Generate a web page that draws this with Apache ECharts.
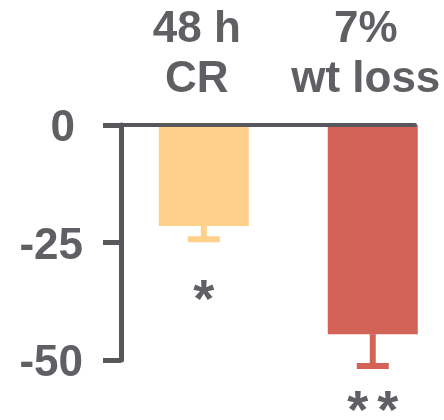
<!DOCTYPE html>
<html>
<head>
<meta charset="utf-8">
<script src="https://cdn.jsdelivr.net/npm/echarts@6/dist/echarts.min.js"></script>
<style>
  html, body { margin: 0; padding: 0; background: #fff; }
  #chart { width: 444px; height: 420px; }
</style>
</head>
<body>
<div id="chart"></div>
<script>
// groups and their x positions on the value axis
const categories = ["48 h\nCR", "7%\nwt loss"];
const positions = [1, 2];
// mean change and error (SEM) per group
const means = [-21.5, -44.5];
const sems = [2.8, 6.8];
// significance marks and the level they sit at
const sigMarks = ["*", "**"];
const sigLevels = [-37.6, -61.3];
const yTicks = [0, -25, -50];

const barColors = ["#FFD08A", "#D26356"];
const axisColor = "#58585C";
const textColor = "#5F6064";
const fontFamily = "'Liberation Sans', Arial, sans-serif";

const chart = echarts.init(document.getElementById("chart"));

const errData = positions.map((p, i) => [p, means[i], sems[i], i]);

const renderError = (params, api) => {
  const i = api.value(3);
  const top = api.coord([api.value(0), api.value(1)]);
  const end = api.coord([api.value(0), api.value(1) - api.value(2)]);
  const sig = api.coord([api.value(0), sigLevels[i]]);
  const color = barColors[i];
  const children = [
    { type: "rect", shape: { x: top[0] - 3, y: top[1], width: 6, height: end[1] - top[1] }, style: { fill: color } },
    { type: "rect", shape: { x: end[0] - 16, y: end[1] - 3, width: 32, height: 6 }, style: { fill: color } }
  ];
  const n = sigMarks[i].length;
  for (let k = 0; k < n; k++) {
    children.push({
      type: "text",
      x: sig[0] + (k - (n - 1) / 2) * 30,
      y: sig[1],
      style: {
        text: "*",
        font: "bold 54px " + fontFamily,
        fill: textColor,
        align: "center",
        verticalAlign: "middle"
      }
    });
  }
  return { type: "group", children };
};

chart.setOption({
  animation: false,
  grid: { left: 121, right: 29, top: 125, bottom: 60, outerBoundsMode: "none" },
  xAxis: {
    type: "value",
    position: "top",
    min: 0.51,
    max: 2.25,
    z: 10,
    splitLine: { show: false },
    axisTick: { show: false },
    axisLine: { show: true, lineStyle: { color: axisColor, width: 4 } },
    axisLabel: {
      customValues: positions,
      formatter: (v) => categories[positions.indexOf(v)] || "",
      color: textColor,
      fontFamily: fontFamily,
      fontWeight: "bold",
      fontSize: 44,
      lineHeight: 50,
      margin: 20,
      padding: [0, 14, 0, 0]
    }
  },
  yAxis: {
    type: "value",
    min: -50,
    max: 0,
    interval: 25,
    splitLine: { show: false },
    axisLine: { show: true, lineStyle: { color: axisColor, width: 5 } },
    axisTick: { show: true, length: 18, lineStyle: { color: axisColor, width: 5 } },
    axisLabel: {
      color: textColor,
      fontFamily: fontFamily,
      fontWeight: "bold",
      fontSize: 44,
      margin: 38,
      formatter: (v) => (yTicks.indexOf(v) === 0 ? "{z|" + v + "}" : String(v)),
      padding: [8, 0, 0, 0],
      rich: { z: { fontFamily: fontFamily, fontWeight: "bold", fontSize: 44, color: textColor, padding: [0, 8, 0, 0] } }
    }
  },
  series: [
    {
      type: "bar",
      barWidth: 90,
      data: positions.map((p, i) => ({ value: [p, means[i]], itemStyle: { color: barColors[i] } }))
    },
    {
      type: "custom",
      clip: false,
      z: 3,
      renderItem: renderError,
      data: errData
    }
  ]
});
</script>
</body>
</html>
